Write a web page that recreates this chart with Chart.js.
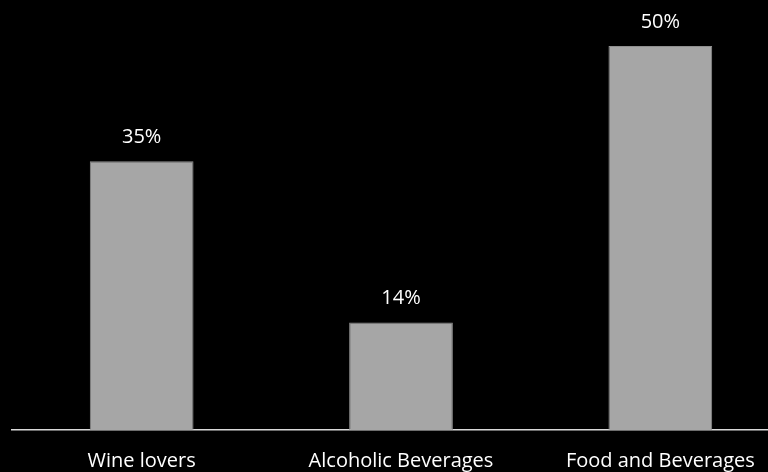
<!DOCTYPE html>
<html>
<head>
<meta charset="utf-8">
<script src="https://cdn.jsdelivr.net/npm/chart.js@4.4.1/dist/chart.umd.min.js"></script>
<style>
  html, body { margin: 0; padding: 0; background: #000; overflow: hidden; }
  #wrap { width: 768px; height: 472px; overflow: hidden; }
</style>
</head>
<body>
<div id="wrap"><canvas id="myChart" width="790" height="492"></canvas></div>
<script>
const categories = ["Wine lovers", "Alcoholic Beverages", "Food and Beverages"];
const shares = [35, 14, 50];

// percentage printed above each bar
const valueLabels = {
  id: "valueLabels",
  afterDatasetsDraw(chart) {
    const ctx = chart.ctx;
    const meta = chart.getDatasetMeta(0);
    ctx.save();
    ctx.fillStyle = "#ffffff";
    ctx.font = "20px 'Open Sans'";
    ctx.textAlign = "center";
    ctx.textBaseline = "middle";
    meta.data.forEach((bar, i) => {
      ctx.fillText(shares[i] + "%", bar.x, bar.y - 24);
    });
    ctx.restore();
  },
};

const ctx = document.getElementById("myChart").getContext("2d");
const myChart = new Chart(ctx, {
  type: "bar",
  data: {
    labels: categories,
    datasets: [
      {
        data: shares,
        backgroundColor: "#a6a6a6",
        borderColor: "#8f8f8f",
        borderWidth: 1,
        categoryPercentage: 1,
        barPercentage: 0.4,
      },
    ],
  },
  options: {
    responsive: false,
    animation: false,
    layout: { padding: { left: 12, right: 0, top: 0, bottom: 0 } },
    plugins: {
      legend: { display: false },
      tooltip: { enabled: false },
    },
    scales: {
      x: {
        grid: { display: false, drawTicks: false },
        border: { color: "#d9d9d9", width: 1.5 },
        ticks: {
          color: "#ffffff",
          font: { family: "'Open Sans'", size: 20 },
          padding: 19,
          maxRotation: 0,
        },
      },
      y: {
        display: false,
        min: 0,
        max: 56,
      },
    },
  },
  plugins: [valueLabels],
});
</script>
</body>
</html>
